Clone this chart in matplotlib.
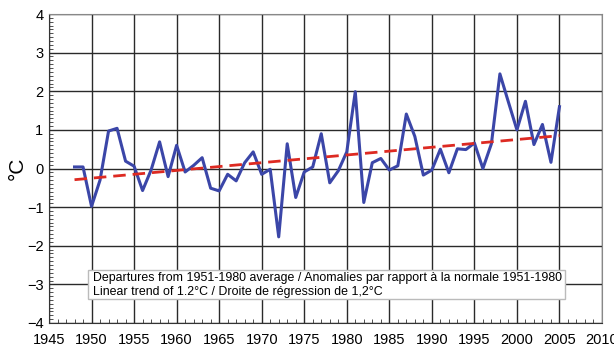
import numpy as np
import matplotlib
matplotlib.use('Agg')
import matplotlib.pyplot as plt
from matplotlib.patches import Rectangle
from matplotlib.ticker import MultipleLocator

plt.rcParams['font.family'] = ['Liberation Sans', 'DejaVu Sans']

# annual temperature departures (deg C)
years = list(range(1948, 2006))
anomaly = [0.04, 0.04, -0.98, -0.30, 0.97, 1.04, 0.19, 0.06, -0.57, -0.04,
           0.69, -0.21, 0.60, -0.09, 0.08, 0.28, -0.51, -0.58, -0.15, -0.32,
           0.15, 0.43, -0.15, -0.02, -1.77, 0.64, -0.75, -0.09, 0.04, 0.90,
           -0.37, -0.06, 0.43, 1.99, -0.88, 0.15, 0.26, -0.04, 0.07, 1.41,
           0.83, -0.17, -0.04, 0.50, -0.11, 0.51, 0.49, 0.66, 0.00, 0.64,
           2.45, 1.72, 1.00, 1.74, 0.62, 1.14, 0.16, 1.60]

# linear trend end points
trend_years = [1948, 2005]
trend_vals = [-0.29, 0.85]

legend_lines = ["Departures from 1951-1980 average / Anomalies par rapport à la normale 1951-1980",
                "Linear trend of 1.2°C / Droite de régression de 1,2°C"]

fig = plt.figure(figsize=(6.14, 3.47), dpi=100)
ax = fig.add_axes([49 / 614, 24 / 347, 553 / 614, 309 / 347])

ax.plot(years, anomaly, color='#3b46a8', lw=2.2, zorder=3)
ax.plot(trend_years, trend_vals, color='#dd2a22', lw=2, dashes=(4.5, 2.5), zorder=4)

ax.set_xlim(1945, 2010)
ax.set_ylim(-4, 4)
ax.xaxis.set_major_locator(MultipleLocator(5))
ax.xaxis.set_minor_locator(MultipleLocator(1))
ax.yaxis.set_major_locator(MultipleLocator(1))
ax.yaxis.set_minor_locator(MultipleLocator(0.1))
ax.grid(True, which='major', color='#2a2a2a', lw=1.0)
ax.tick_params(which='both', direction='in', labelsize=10.5, top=False, right=False)
ax.tick_params(which='major', length=0)
ax.tick_params(axis='x', which='major', pad=7)
ax.tick_params(axis='y', which='major', pad=4)
ax.tick_params(which='minor', length=3, color='#333333')
for s in ['top', 'right']:
    ax.spines[s].set_color('#888888')
for s in ['left', 'bottom']:
    ax.spines[s].set_color('#333333')

ax.set_ylabel('°C', fontsize=15, labelpad=0)

ax.add_patch(Rectangle((0.0705, 0.078), 0.8625, 0.094, transform=ax.transAxes,
                       facecolor='white', edgecolor='#bbbbbb', lw=1, zorder=5))
ax.text(0.0796, 0.1456, legend_lines[0], transform=ax.transAxes, fontsize=8.9,
        va='center', ha='left', zorder=6)
ax.text(0.0796, 0.1003, legend_lines[1], transform=ax.transAxes, fontsize=8.9,
        va='center', ha='left', zorder=6)

fig.savefig('out.png', dpi=100)
